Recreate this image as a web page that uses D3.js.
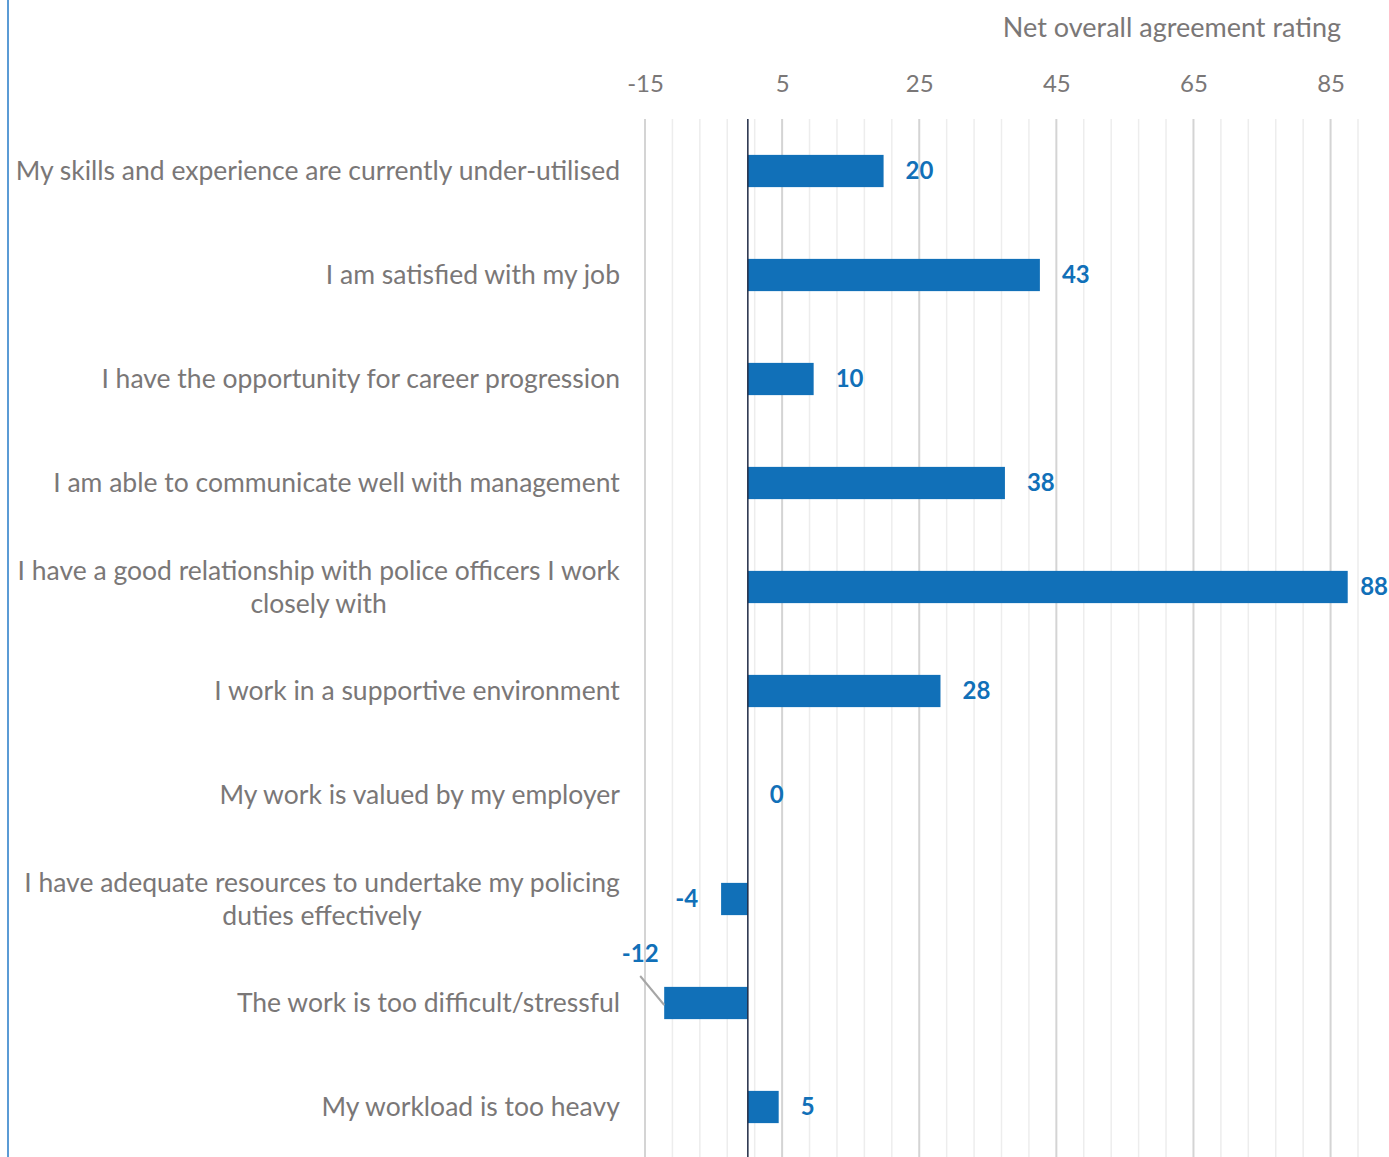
<!DOCTYPE html>
<html>
<head>
<meta charset="utf-8">
<script src="https://cdn.jsdelivr.net/npm/d3@7"></script>
<style>
  body { margin: 0; background: #fff; }
  svg { display: block; font-family: Lato, "Open Sans", sans-serif; }
</style>
</head>
<body>
<svg id="chart"></svg>
<script>
// categories, top to bottom
var categories = [
  "My skills and experience are currently under-utilised",
  "I am satisfied with my job",
  "I have the opportunity for career progression",
  "I am able to communicate well with management",
  "I have a good relationship with police officers I work|closely with",
  "I work in a supportive environment",
  "My work is valued by my employer",
  "I have adequate resources to undertake my policing|duties effectively",
  "The work is too difficult/stressful",
  "My workload is too heavy"
];
// net agreement
var values = [19.8, 42.6, 9.6, 37.5, 87.5, 28.1, 0, -3.9, -12.2, 4.5];
var tickValues = [-15, 5, 25, 45, 65, 85];
var axisTitle = "Net overall agreement rating";

var width = 1389, height = 1157;
var margin = { top: 119, right: 31, bottom: -2, left: 645 };

var svg = d3.select("#chart")
  .attr("width", width)
  .attr("height", height);

var x = d3.scaleLinear().domain([-15, 89]).range([margin.left, width - margin.right]);
var y = d3.scaleBand().domain(categories).range([margin.top, height - margin.bottom]).paddingInner(0.69).paddingOuter(0.345);

var blue = "#1170b8";
var grey = "#7a7777";

// left frame line
svg.append("line")
  .attr("x1", 8).attr("x2", 8)
  .attr("y1", 0).attr("y2", height)
  .attr("stroke", "#5b9bd5")
  .attr("stroke-width", 2);

// gridlines, minor unit 4, major unit 20
var minor = d3.range(-15, 90, 4);
svg.append("g").selectAll("line")
  .data(minor)
  .enter().append("line")
  .attr("x1", d => x(d)).attr("x2", d => x(d))
  .attr("y1", margin.top).attr("y2", height)
  .attr("stroke", d => tickValues.indexOf(d) >= 0 ? "#d4d4d4" : "#ededed")
  .attr("stroke-width", d => tickValues.indexOf(d) >= 0 ? 2 : 1.5);

// top axis labels
var axis = svg.append("g")
  .attr("transform", "translate(0," + 92 + ")")
  .call(d3.axisTop(x).tickValues(tickValues).tickSize(0).tickPadding(0)
    .tickFormat(d => d < 0 ? "-" + Math.abs(d) : d));
axis.select(".domain").remove();
axis.selectAll("text")
  .attr("font-size", 24)
  .attr("font-family", "Lato, sans-serif")
  .attr("fill", grey)
  .attr("dy", 0);

svg.append("text")
  .attr("x", 1341).attr("y", 37)
  .attr("text-anchor", "end")
  .attr("font-size", 27)
  .attr("fill", grey)
  .text(axisTitle);

// category labels
var labelRight = 620;
categories.forEach(function (c) {
  var lines = c.split("|");
  var cy = y(c) + y.bandwidth() / 2;
  var lh = 33;
  var t = svg.append("text")
    .attr("font-size", 26.5)
    .attr("fill", grey);
  lines.forEach(function (l, i) {
    t.append("tspan")
      .attr("x", 0)
      .attr("y", cy + (i - (lines.length - 1) / 2) * lh)
      .attr("dy", "0.35em")
      .attr("text-anchor", "middle")
      .text(l);
  });
  var w = t.node().getBBox().width;
  t.attr("transform", "translate(" + (labelRight - w / 2) + ",0)");
});

// bars
svg.append("g").selectAll("rect")
  .data(values)
  .enter().append("rect")
  .attr("x", d => x(Math.min(0, d)))
  .attr("width", d => Math.abs(x(d) - x(0)))
  .attr("y", (d, i) => y(categories[i]))
  .attr("height", y.bandwidth())
  .attr("fill", blue);

// zero axis
svg.append("line")
  .attr("x1", x(0)).attr("x2", x(0))
  .attr("y1", margin.top).attr("y2", height)
  .attr("stroke", "#1f2a44")
  .attr("stroke-width", 1.5);

// value labels
values.forEach(function (v, i) {
  var cy = y(categories[i]) + y.bandwidth() / 2;
  var lbl = svg.append("text")
    .attr("font-size", 24)
    .attr("font-weight", "bold")
    .attr("fill", blue)
    .attr("dy", "0.35em")
    .text(Math.round(v));
  if (v < -10) {
    // label pulled up above the bar with a leader line
    lbl.attr("x", x(v) - 24).attr("y", cy - 49).attr("text-anchor", "middle");
    svg.append("line")
      .attr("x1", x(v) - 24).attr("y1", cy - 27)
      .attr("x2", x(v)).attr("y2", cy + 2)
      .attr("stroke", "#a6a6a6")
      .attr("stroke-width", 2);
  } else if (v < 0) {
    lbl.attr("x", x(v) - 23).attr("y", cy).attr("text-anchor", "end");
  } else {
    lbl.attr("x", x(v) + 22).attr("y", cy).attr("text-anchor", "start");
    // keep the label inside the picture
    var lw = lbl.node().getComputedTextLength();
    if (x(v) + 22 + lw > width - 1) lbl.attr("x", width - 1 - lw);
  }
});
</script>
</body>
</html>
